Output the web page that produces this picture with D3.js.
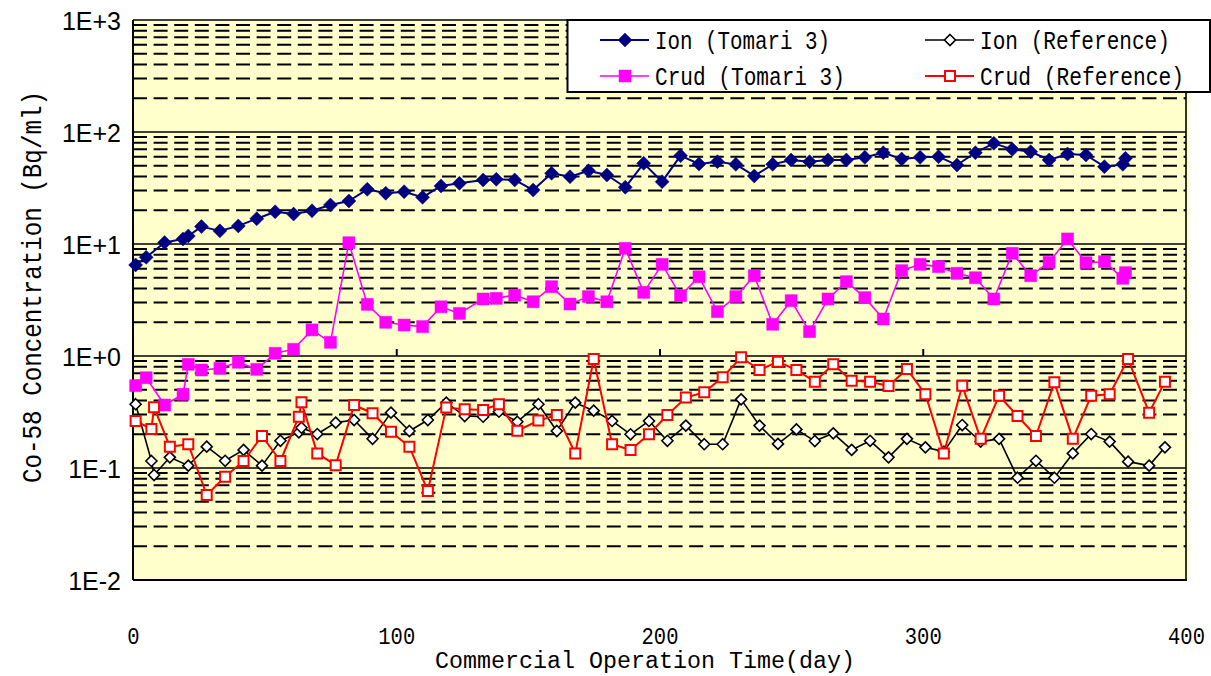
<!DOCTYPE html>
<html>
<head>
<meta charset="utf-8">
<script src="https://cdn.jsdelivr.net/npm/d3@7"></script>
<style>
  html, body { margin: 0; padding: 0; background: #ffffff; }
  svg { display: block; }
</style>
</head>
<body>
<svg id="chart" width="1211" height="676"></svg>
<script>
// ---------------- data ----------------
const tomariDays = [1, 5, 12, 19, 21, 26, 33, 40, 47, 54, 61, 68, 75, 82, 89, 96, 103, 110, 117, 124,
  133, 138, 145, 152, 159, 166, 173, 180, 187, 194, 201, 208, 215, 222, 229, 236, 243, 250, 257, 264,
  271, 278, 285, 292, 299, 306, 313, 320, 327, 334, 341, 348, 355, 362, 369, 376, 377];
const ionTomari = [6.5, 7.6, 10.3, 11.1, 11.8, 14.3, 13.1, 14.5, 16.8, 19.4,
  18.5, 19.8, 22.3, 24.2, 30.8, 28.4, 29.3, 26.1, 33, 34.8,
  37.3, 37.8, 37.3, 30.3, 42.8, 39.9, 45.1, 41.3, 32.1, 52.5,
  36, 61.5, 51.8, 54.3, 51.4, 40.5, 51.4, 56.2, 54.3, 56.2,
  56.2, 59.4, 65.3, 57.4, 59.4, 60.2, 50.7, 65.3, 79.2, 70,
  66.7, 56.2, 63.6, 62.3, 49, 51.4, 58.2];
const crudTomari = [0.543, 0.64, 0.365, 0.455, 0.843, 0.75, 0.776, 0.879, 0.76, 1.057,
  1.148, 1.71, 1.325, 10.27, 2.89, 2.0, 1.89, 1.83, 2.75, 2.40,
  3.23, 3.27, 3.5, 3.05, 4.16, 2.91, 3.39, 3.05, 9.15, 3.7,
  6.58, 3.46, 5.1, 2.49, 3.39, 5.21, 1.92, 3.12, 1.65, 3.23,
  4.61, 3.32, 2.14, 5.78, 6.58, 6.28, 5.47, 5.0, 3.23, 8.26,
  5.21, 6.86, 11.1, 6.81, 6.95, 4.94, 5.55];
const refDays = [1, 7, 8, 14, 21, 28, 35, 42, 49, 56, 63, 64, 70, 77, 84, 91, 98, 105, 112, 119,
  126, 133, 139, 146, 154, 161, 168, 175, 182, 189, 196, 203, 210, 217, 224, 231, 238, 245, 252, 259,
  266, 273, 280, 287, 294, 301, 308, 315, 322, 329, 336, 343, 350, 357, 364, 371, 378, 386, 392];
const ionRef = [0.371, 0.1155, 0.0866, 0.1245, 0.105, 0.155, 0.116, 0.145, 0.105, 0.175,
  0.208, 0.229, 0.201, 0.254, 0.268, 0.182, 0.312, 0.214, 0.268, 0.383,
  0.291, 0.287, 0.318, 0.259, 0.371, 0.214, 0.383, 0.325, 0.263, 0.2,
  0.263, 0.175, 0.239, 0.163, 0.163, 0.41, 0.239, 0.164, 0.221, 0.174,
  0.204, 0.145, 0.175, 0.1245, 0.182, 0.153, 0.14, 0.242, 0.172, 0.182,
  0.0819, 0.116, 0.0819, 0.135, 0.201, 0.172, 0.114, 0.105, 0.153];
const crudRef = [0.263, 0.223, 0.348, 0.155, 0.163, 0.0574, 0.0837, 0.1155, 0.193, 0.1155,
  0.287, 0.386, 0.135, 0.106, 0.365, 0.308, 0.211, 0.155, 0.0623, 0.346,
  0.334, 0.33, 0.371, 0.215, 0.265, 0.297, 0.135, 0.94, 0.163, 0.145,
  0.2, 0.297, 0.425, 0.474, 0.645, 0.974, 0.75, 0.89, 0.75, 0.59,
  0.843, 0.602, 0.59, 0.54, 0.765, 0.455, 0.135, 0.543, 0.182, 0.442,
  0.291, 0.193, 0.582, 0.182, 0.442, 0.455, 0.94, 0.312, 0.59];
const xTicks = [0, 100, 200, 300, 400];
const yTicks = [1000, 100, 10, 1, 0.1, 0.01];
const yTickLabels = ["1E+3", "1E+2", "1E+1", "1E+0", "1E-1", "1E-2"];
const seriesNames = ["Ion (Tomari 3)", "Crud (Tomari 3)", "Ion (Reference)", "Crud (Reference)"];
const xTitle = "Commercial Operation Time(day)";
const yTitle = "Co-58 Concentration (Bq/ml)";

// ---------------- layout ----------------
const L = 133, R = 1186, T = 20, B = 580;
const mono = "'Liberation Mono', 'DejaVu Sans Mono', monospace";
const svg = d3.select("#chart");
const x = d3.scaleLinear().domain([0, 400]).range([L, R]);
const y = d3.scaleLog().domain([0.01, 1000]).range([B, T]);

// narrow gothic-like text: monospace sized to the width, stretched vertically
function gothic(sel, str, width, height, anchor) {
  const fs = width / (0.6 * str.length);
  return sel.append("text")
    .attr("font-family", mono).attr("font-size", fs)
    .attr("text-anchor", anchor || "start").attr("fill", "#000")
    .attr("transform", `scale(1,${height / fs})`)
    .text(str);
}

svg.append("rect").attr("x", 0).attr("y", 0).attr("width", 1211).attr("height", 676).attr("fill", "#fff");
svg.append("rect").attr("x", L).attr("y", T).attr("width", R - L + 3).attr("height", B - T)
  .attr("fill", "#FFFFCC");

// minor gridlines (dashed)
const minor = [];
[0.01, 0.1, 1, 10, 100].forEach(d => { for (let k = 2; k <= 9; k++) minor.push(d * k); });
svg.append("g").selectAll("line").data(minor).join("line")
  .attr("x1", L).attr("x2", R).attr("y1", d => y(d)).attr("y2", d => y(d))
  .attr("stroke", "#000").attr("stroke-width", 2).attr("stroke-dasharray", "14,6.6");
// major gridlines (solid)
svg.append("g").selectAll("line").data(yTicks).join("line")
  .attr("x1", L).attr("x2", R).attr("y1", d => y(d)).attr("y2", d => y(d))
  .attr("stroke", "#000").attr("stroke-width", 1.6);

// borders
svg.append("line").attr("x1", L).attr("x2", L).attr("y1", T).attr("y2", B)
  .attr("stroke", "#000").attr("stroke-width", 2);
svg.append("line").attr("x1", R).attr("x2", R).attr("y1", T).attr("y2", B)
  .attr("stroke", "#000").attr("stroke-width", 1.6);
svg.append("line").attr("x1", L).attr("x2", R + 1).attr("y1", B).attr("y2", B)
  .attr("stroke", "#000").attr("stroke-width", 2);

// x axis crossing at 1 with ticks up
const xAxisTop = d3.axisTop(x).tickValues([100, 200, 300]).tickSize(7).tickFormat("");
const gxa = svg.append("g").attr("transform", `translate(0,${y(1)})`).call(xAxisTop);
gxa.select(".domain").remove();
gxa.selectAll("line").attr("stroke", "#000").attr("stroke-width", 2);

// x tick labels (axis positions, gothic-like text)
const gx = svg.append("g").attr("transform", `translate(0,${B})`)
  .call(d3.axisBottom(x).tickValues(xTicks).tickSize(0).tickFormat(""));
gx.select(".domain").remove();
gx.selectAll(".tick").each(function (d) {
  const g = d3.select(this).append("g").attr("transform", "translate(0,64)");
  gothic(g, d3.format("d")(d), String(d).length * 12.3, 23, "middle");
});

// y tick labels
const gy = svg.append("g").attr("transform", `translate(${L},0)`)
  .call(d3.axisLeft(y).tickValues(yTicks).tickSize(0).tickFormat((d, i) => yTickLabels[i]));
gy.select(".domain").remove();
gy.selectAll("text")
  .attr("x", -12).attr("dy", "0.36em")
  .attr("font-family", "'Liberation Sans', Arial, sans-serif").attr("font-size", 25).attr("fill", "#000");

// axis titles
gothic(svg.append("g").attr("transform", "translate(645,668)"), xTitle, 420, 23, "middle");
gothic(svg.append("g").attr("transform", "translate(41,287) rotate(-90)"), yTitle, 392, 27, "middle");

// ---------------- series ----------------
const diamond = s => `M0,${-s}L${s},0L0,${s}L${-s},0Z`;
const square = s => `M${-s},${-s}H${s}V${s}H${-s}Z`;
const styles = [
  { color: "#000080", lw: 2, shape: diamond(7), fill: "#000080", stroke: "#000080", sw: 0.5 },
  { color: "#FF00FF", lw: 1.6, shape: square(6), fill: "#FF00FF", stroke: "#FF00FF", sw: 0.5 },
  { color: "#000000", lw: 1.6, shape: diamond(5.5), fill: "#FFFFFF", stroke: "#000000", sw: 1.6 },
  { color: "#FF0000", lw: 2, shape: square(5), fill: "#FFFFFF", stroke: "#FF0000", sw: 2 }
];
const series = [
  { days: tomariDays, vals: ionTomari },
  { days: tomariDays, vals: crudTomari },
  { days: refDays, vals: ionRef },
  { days: refDays, vals: crudRef }
];
const line = d3.line().x(d => x(d[0])).y(d => y(d[1]));
series.forEach((s, i) => {
  const pts = s.days.map((d, j) => [d, s.vals[j]]);
  const st = styles[i];
  const g = svg.append("g");
  g.append("path").attr("d", line(pts)).attr("fill", "none")
    .attr("stroke", st.color).attr("stroke-width", st.lw).attr("stroke-linejoin", "round");
  g.selectAll("path.m").data(pts).join("path").attr("class", "m")
    .attr("transform", d => `translate(${x(d[0])},${y(d[1])})`)
    .attr("d", st.shape).attr("fill", st.fill).attr("stroke", st.stroke).attr("stroke-width", st.sw);
});

// ---------------- legend ----------------
const lg = svg.append("g");
lg.append("rect").attr("x", 567.5).attr("y", 20).attr("width", 642.5).attr("height", 72)
  .attr("fill", "#fff").attr("stroke", "#000").attr("stroke-width", 2);
const legPos = [
  { lx: 600, ly: 40, tw: 175 }, { lx: 600, ly: 76, tw: 190 },
  { lx: 925, ly: 40, tw: 190 }, { lx: 925, ly: 76, tw: 204 }
];
legPos.forEach((p, i) => {
  const st = styles[i];
  lg.append("line").attr("x1", p.lx).attr("x2", p.lx + 49).attr("y1", p.ly).attr("y2", p.ly)
    .attr("stroke", st.color).attr("stroke-width", st.lw);
  lg.append("path").attr("transform", `translate(${p.lx + 25},${p.ly})`)
    .attr("d", st.shape).attr("fill", st.fill).attr("stroke", st.stroke).attr("stroke-width", st.sw);
  gothic(lg.append("g").attr("transform", `translate(${p.lx + 55},${p.ly + 9})`),
    seriesNames[i], p.tw, 26, "start");
});
</script>
</body>
</html>
